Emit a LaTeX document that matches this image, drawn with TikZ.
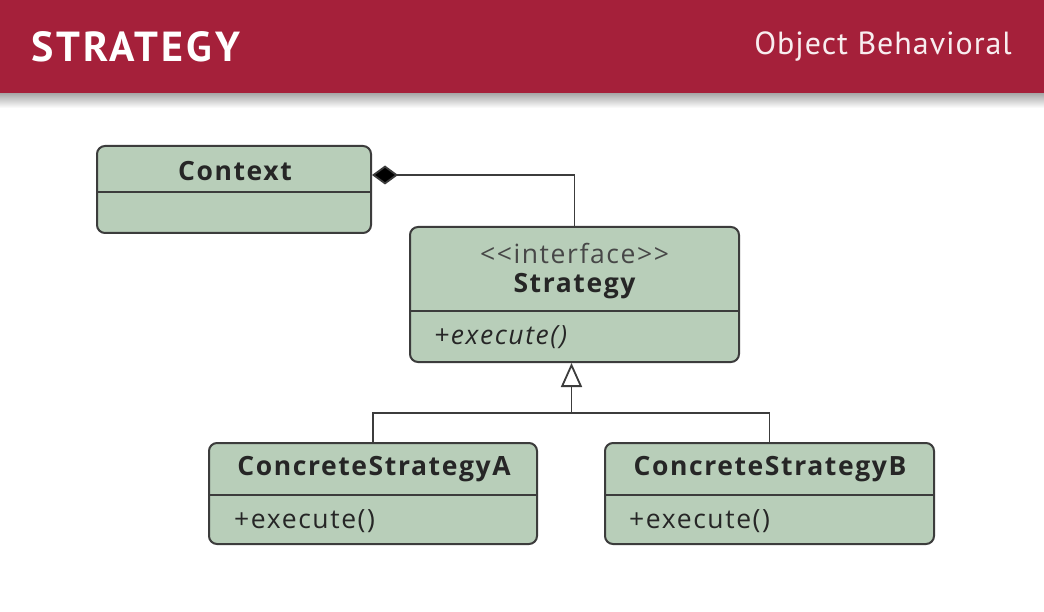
\documentclass[tikz,border=0pt]{standalone}
\usepackage{fontspec}
\setmainfont{PT Sans}
\newfontfamily\boxfont[LetterSpace=6]{Open Sans}
\newfontfamily\titlefont[LetterSpace=7]{PT Sans}
\newfontfamily\catfont[LetterSpace=3]{PT Sans}
\usetikzlibrary{arrows.meta,calc}
\definecolor{hdr}{HTML}{A5203A}
\definecolor{boxfill}{HTML}{B8CEB9}
\definecolor{boxline}{HTML}{3C3C3C}
\definecolor{txt}{HTML}{262626}
\begin{document}
\begin{tikzpicture}[x=1pt,y=-1pt,
  umlbox/.style={draw=boxline,fill=boxfill,line width=2pt,rounded corners=8pt,inner sep=0pt},
  conn/.style={draw=boxline,line width=1.8pt},
  divider/.style={draw=boxline,line width=2pt},
  cname/.style={font=\boxfont\bfseries\fontsize{26.5}{30}\selectfont,text=txt,inner sep=0pt},
  stereo/.style={font=\boxfont\fontsize{26.5}{30}\selectfont,text=txt!85!white,inner sep=0pt},
  member/.style={font=\boxfont\fontsize{26.5}{30}\selectfont,text=txt,inner sep=0pt,anchor=west},
]
\useasboundingbox (0,0) rectangle (1044,612);
\fill[white] (0,0) rectangle (1044,612);
% header
\shade[top color=black!35,bottom color=white] (0,93) rectangle (1044,108);
\fill[hdr] (0,0) rectangle (1044,93);
\node[font=\titlefont\bfseries\fontsize{42}{48}\selectfont,text=white,anchor=west,inner sep=0pt] (title) at (31,47) {STRATEGY};
\node[font=\catfont\fontsize{32}{38}\selectfont,text=white!92!hdr,anchor=east,inner sep=0pt] (category) at (1012,47) {Object Behavioral};

% Context
\node[umlbox,minimum width=274,minimum height=87] (ctx) at (234,189.5) {};
\node[cname] (ctxname) at (235,171) {Context};
\draw[divider] (ctx.west |- 0,192) -- (ctx.east |- 0,192);

% Strategy
\node[umlbox,minimum width=329,minimum height=135] (strat) at (574.5,294.5) {};
\node[stereo] (stratst) at (574.5,253) {{<}{<}interface{>}{>}};
\node[cname] (stratname) at (574.5,286) {Strategy};
\draw[divider] (strat.west |- 0,311) -- (strat.east |- 0,311);
\node[member,font=\boxfont\itshape\fontsize{26.5}{30}\selectfont] (stratop) at (434,337) {+execute()};

% Concrete A
\node[umlbox,minimum width=328,minimum height=101] (csa) at (373,493.5) {};
\node[cname] (csaname) at (374,469) {ConcreteStrategyA};
\draw[divider] (csa.west |- 0,495) -- (csa.east |- 0,495);
\node[member] (csaop) at (234,521) {+execute()};

% Concrete B
\node[umlbox,minimum width=329,minimum height=101] (csb) at (769.5,493.5) {};
\node[cname] (csbname) at (770,469) {ConcreteStrategyB};
\draw[divider] (csb.west |- 0,495) -- (csb.east |- 0,495);
\node[member] (csbop) at (629,521) {+execute()};

% composition
\draw[conn,{Diamond[length=26pt,width=19pt,fill=black]}-] (ctx.east |- 0,175) -| (strat.north);

% generalization
\coordinate (split) at (571.5,413);
\draw[conn,-{Triangle[open,length=24pt,width=21pt,fill=white,line width=1.8pt]}] (split) -- (strat.south -| split);
\draw[conn] (csa.north) |- (split) -| (csb.north);
\end{tikzpicture}
\end{document}
